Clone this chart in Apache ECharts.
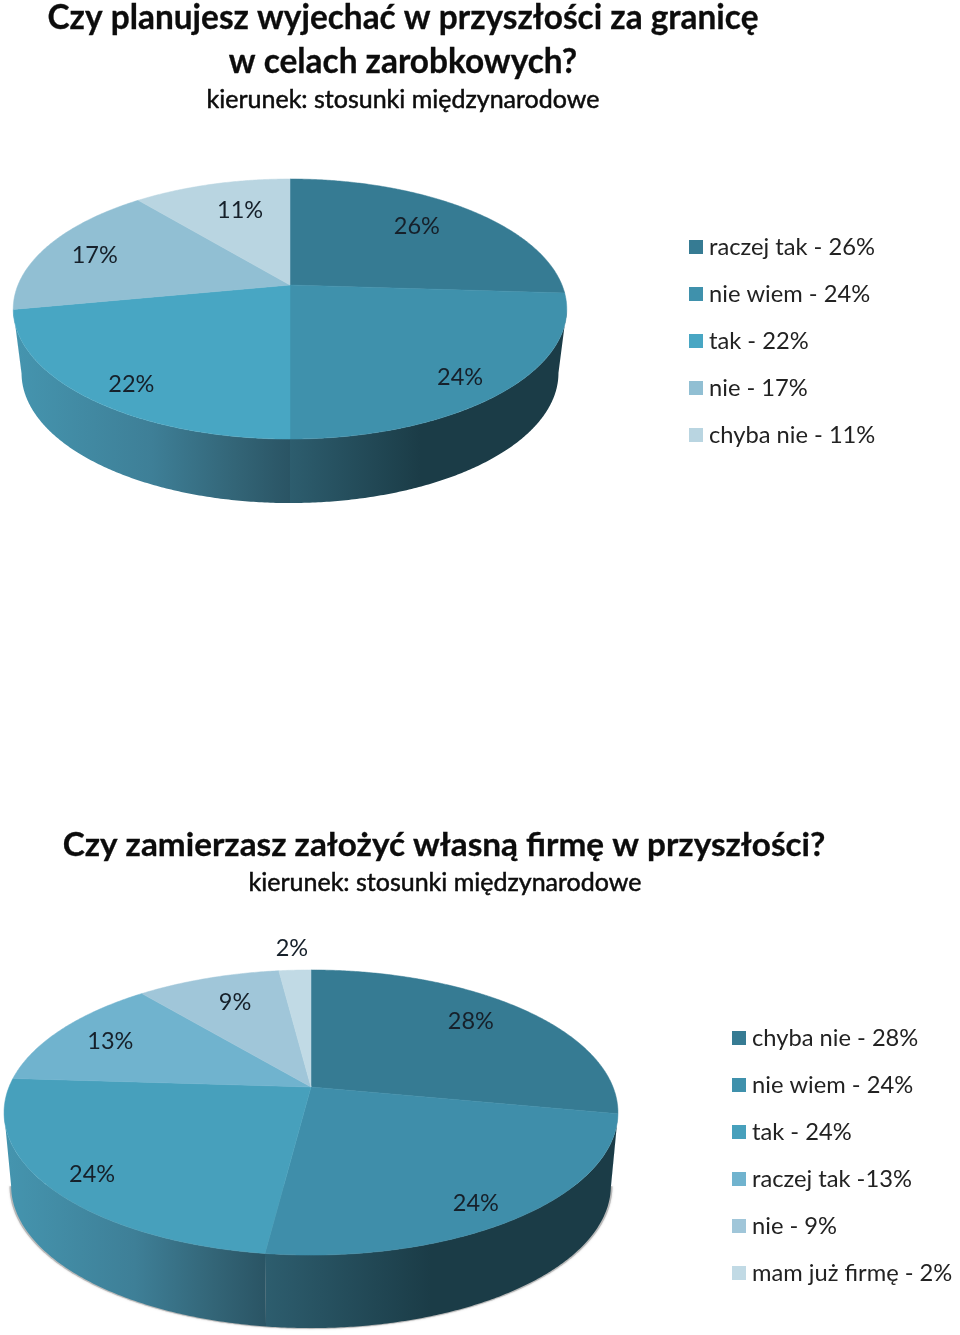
<!DOCTYPE html>
<html><head><meta charset="utf-8">
<style>html,body{margin:0;padding:0;background:#fff}#c{width:960px;height:1335px}</style>
<script src="https://cdn.jsdelivr.net/npm/echarts@6/dist/echarts.min.js"></script>
</head><body><div id="c"></div>
<script>
const topTitle1 = 'Czy planujesz wyjechać w przyszłości za granicę';
const topTitle2 = 'w celach zarobkowych?';
const topSubtitle = 'kierunek: stosunki międzynarodowe';
const topNames = ['raczej tak - 26%','nie wiem - 24%','tak - 22%','nie - 17%','chyba nie - 11%'];
const topValues = [26,24,22,17,11];
const bottomTitle = 'Czy zamierzasz założyć własną firmę w przyszłości?';
const bottomSubtitle = 'kierunek: stosunki międzynarodowe';
const bottomNames = ['chyba nie - 28%','nie wiem - 24%','tak - 24%','raczej tak -13%','nie - 9%','mam już firmę - 2%'];
const bottomValues = [28,24,24,13,9,2];

const FONT = 'Lato, "Open Sans", sans-serif';
const topColors = ['#367b93','#3f91ac','#48a6c3','#91bfd3','#b9d5e1'];
const bottomColors = ['#367b93','#3f8eaa','#47a0bc','#70b3ce','#a0c6d9','#c1dae5'];
// geometry of each perspective disc
const topGeo = {cx:290,cy:285,R:272,s:125.6,k:0.1847,f:0.97,g:1,d:64,
  labelR:[.725,.848,.856,.79,.702], labelD:[-2,2.7,-3.1,-1.6,2.7], shadow:false};
const bottomGeo = {cx:311,cy:1087,R:302,s:138,k:0.179,f:0.977,g:1,d:73,
  labelR:[.78,.871,.863,.79,.748,1.231], labelD:[-2.5,3,-1.4,-.4,1.2,0], shadow:true};
const wallStops = {
  1:[[0,'#2d5d6e'],[.47,'#1b3c47'],[1,'#1b3c47']],
  2:[[0,'#4595af'],[.5,'#3e7f97'],[.8,'#336577'],[1,'#2a5464']]
};

function project(g, deg, r){
  const a = deg*Math.PI/180, u = r*Math.sin(a), v = -r*Math.cos(a), w = 1-g.k*v;
  return [g.R*u/w, g.s*v/w];
}
const top_ = (g,deg,r=1)=>{const p=project(g,deg,r);return [g.cx+p[0],g.cy+p[1]];};
const low_ = (g,deg)=>{const p=project(g,deg,1);return [g.cx+g.f*p[0],g.cy+g.d+g.g*p[1]];};
function arc(fn,g,a0,a1){const n=Math.max(2,Math.ceil(Math.abs(a1-a0)/0.5));const o=[];
  for(let i=0;i<=n;i++)o.push(fn(g,a0+(a1-a0)*i/n));return o;}

function sliceSeries(names,values,colors,g){
  const total = values.reduce((a,b)=>a+b,0);
  const front = Math.acos(-g.k)*180/Math.PI; // angle of the right silhouette point
  let acc = 0;
  return values.map((val,i)=>{
    const a0 = acc/total*360; acc += val; const a1 = acc/total*360;
    const mid = (a0+a1)/2;
    return {
      type:'custom', name:names[i], coordinateSystem:'none', silent:true,
      itemStyle:{color:colors[i]}, data:[[val]],
      renderItem(){
        const kids = [];
        const fa = front, la = 360-front;
        if (i===0 && g.shadow){
          const pts = arc(low_,g,fa,la).map(p=>[g.cx+(p[0]-g.cx)*1.005,p[1]+0.8]);
          kids.push({type:'polygon',shape:{points:pts},style:{fill:'#b8b8b8',shadowBlur:2,shadowColor:'rgba(0,0,0,.2)'}});
        }
        const w0 = Math.max(a0,fa), w1 = Math.min(a1,la);
        if (w1>w0){
          const pts = arc(top_,g,w0,w1).concat(arc(low_,g,w1,w0));
          kids.push({type:'polygon',shape:{points:pts},style:{
            fill:new echarts.graphic.LinearGradient(0,0,1,0,(wallStops[i]||[[0,colors[i]],[1,colors[i]]]).map(s=>({offset:s[0],color:s[1]})))}});
        }
        const facePts = [[g.cx,g.cy]].concat(arc((gg,d)=>top_(gg,d),g,a0,a1));
        kids.push({type:'polygon',shape:{points:facePts},style:{fill:colors[i],stroke:colors[i],lineWidth:.5}});
        const lp = top_(g,mid+g.labelD[i],g.labelR[i]);
        kids.push({type:'text',z2:10,style:{text:val+'%',x:lp[0],y:lp[1],align:'center',verticalAlign:'middle',
          font:'23.5px '+FONT,fill:'#16202a'}});
        return {type:'group',children:kids};
      }
    };
  });
}
function titleItem(text,x,y,size,weight,border){
  return {text,left:x,top:y,textAlign:'center',padding:0,
    textStyle:{fontFamily:FONT,fontSize:size,fontWeight:weight,color:'#0c0c0c',textBorderColor:'#0c0c0c',textBorderWidth:border}};
}
function legendItem(names,left,top){
  return {show:true,orient:'vertical',left,top,padding:0,itemWidth:14,itemHeight:14,itemGap:23,icon:'rect',
    selectedMode:false,data:names,
    textStyle:{fontFamily:FONT,fontSize:23.7,color:'#222',padding:[0,0,0,1]}};
}
const chart = echarts.init(document.getElementById('c'),null,{renderer:'canvas'});
chart.setOption({
  backgroundColor:'#fff', animation:false,
  title:[
    titleItem(topTitle1,403,2,33.4,'bold',0.3),
    titleItem(topTitle2,403,46,33.4,'bold',0.3),
    titleItem(topSubtitle,403,87,25,'normal',0.5),
    titleItem(bottomTitle,444,829,33.3,'bold',0.3),
    titleItem(bottomSubtitle,445,870,25,'normal',0.5)
  ],
  legend:[legendItem(topNames,689,235),legendItem(bottomNames,732,1026)],
  series:[...sliceSeries(topNames,topValues,topColors,topGeo),...sliceSeries(bottomNames,bottomValues,bottomColors,bottomGeo)]
});
</script></body></html>
